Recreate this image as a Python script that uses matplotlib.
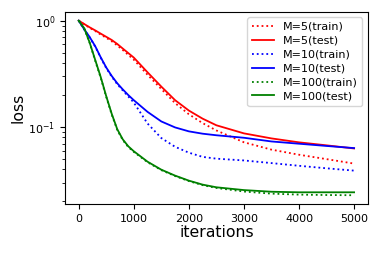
import numpy as np
import matplotlib
matplotlib.use("Agg")
import matplotlib.pyplot as plt

iters = [0, 100, 200, 300, 400, 500, 600, 700, 800, 900, 1000, 1250, 1500,
         1750, 2000, 2250, 2500, 3000, 3500, 4000, 4500, 5000]

m5_train = [1.0, 0.925, 0.855, 0.80, 0.74, 0.69, 0.64, 0.585, 0.53, 0.477, 0.43,
            0.31, 0.228, 0.168, 0.132, 0.109, 0.093, 0.072, 0.0614, 0.055, 0.050, 0.0454]
m5_test = [1.0, 0.93, 0.865, 0.81, 0.755, 0.705, 0.658, 0.604, 0.547, 0.496, 0.45,
           0.327, 0.24, 0.179, 0.143, 0.12, 0.104, 0.0873, 0.0783, 0.0719, 0.0674, 0.063]
m10_train = [1.0, 0.825, 0.695, 0.57, 0.448, 0.358, 0.297, 0.253, 0.221, 0.194, 0.17,
             0.108, 0.0789, 0.0653, 0.0575, 0.0525, 0.0505, 0.0486, 0.0459, 0.0433, 0.041, 0.039]
m10_test = [1.0, 0.83, 0.70, 0.575, 0.452, 0.363, 0.302, 0.258, 0.226, 0.20, 0.179,
            0.139, 0.113, 0.0993, 0.0912, 0.0867, 0.0838, 0.0794, 0.0733, 0.0698, 0.0665, 0.0635]
m100_train = [1.0, 0.845, 0.615, 0.42, 0.29, 0.192, 0.131, 0.094, 0.0755, 0.065, 0.0585,
              0.0468, 0.0394, 0.0347, 0.0311, 0.0285, 0.0268, 0.0248, 0.0237, 0.0232, 0.023, 0.0229]
m100_test = [1.0, 0.85, 0.62, 0.427, 0.295, 0.195, 0.133, 0.0955, 0.0767, 0.066, 0.0593,
             0.0473, 0.0398, 0.035, 0.0314, 0.0288, 0.0272, 0.0256, 0.0247, 0.0244, 0.0244, 0.0244]

fig = plt.figure(figsize=(3.82, 2.54), dpi=100)
ax = fig.add_axes([0.170, 0.197, 0.793, 0.756])

ax.plot(iters, m5_train, ':', color='red', lw=1.3, label='M=5(train)')
ax.plot(iters, m5_test, '-', color='red', lw=1.3, label='M=5(test)')
ax.plot(iters, m10_train, ':', color='blue', lw=1.3, label='M=10(train)')
ax.plot(iters, m10_test, '-', color='blue', lw=1.3, label='M=10(test)')
ax.plot(iters, m100_train, ':', color='green', lw=1.3, label='M=100(train)')
ax.plot(iters, m100_test, '-', color='green', lw=1.3, label='M=100(test)')

ax.set_yscale('log')
ax.set_xticks([0, 1000, 2000, 3000, 4000, 5000])
ax.tick_params(labelsize=8)
ax.set_xlabel('iterations', fontsize=11.3, labelpad=1)
ax.set_ylabel('loss', fontsize=11.3, labelpad=2)
ax.legend(fontsize=8, loc='upper right', handlelength=2.0, labelspacing=0.35)

fig.savefig('out.png', dpi=100)
